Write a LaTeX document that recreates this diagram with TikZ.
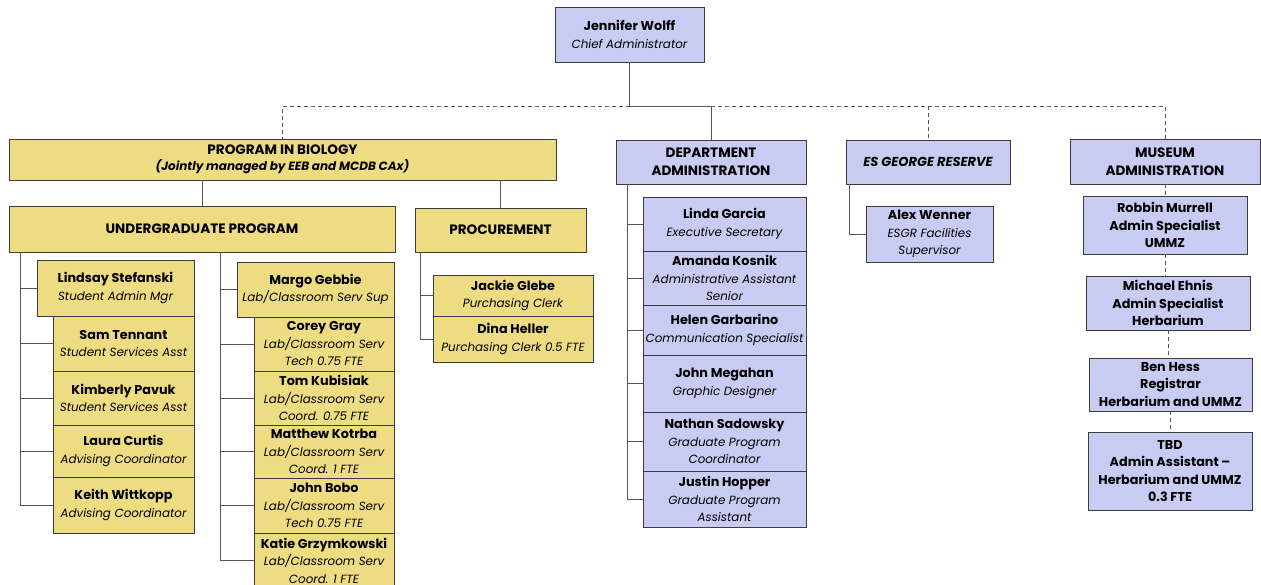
\documentclass[tikz,border=0pt]{standalone}
\usepackage{fontspec}
\setmainfont{Poppins}
\usetikzlibrary{positioning}
\definecolor{orgYellow}{HTML}{EEDC82}
\definecolor{orgBlue}{HTML}{C8CCF2}
\definecolor{orgEdge}{HTML}{3C3C3C}
\definecolor{orgLine}{HTML}{555555}
% name line and title line inside a box
\newcommand{\who}[1]{{\bfseries\fontsize{12.8}{17.5}\selectfont #1}}
\newcommand{\what}[1]{{\itshape\fontsize{11.9}{17.5}\selectfont #1}}

\begin{document}
\begin{tikzpicture}[
  x=1pt, y=-1pt,
  unit/.style={
    rectangle, draw=orgEdge, line width=0.9pt, fill=#1,
    inner sep=1pt, align=center, text=black,
    font=\fontsize{11.9}{17.5}\selectfont
  },
  ybox/.style={unit=orgYellow},
  bbox/.style={unit=orgBlue},
  head/.style={font=\bfseries\fontsize{13.6}{17.5}\selectfont},
  wh/.style 2 args={minimum width=#1, minimum height=#2},
  conn/.style={line width=0.9pt, orgLine},
  dconn/.style={conn, dash pattern=on 4pt off 3pt},
]
\useasboundingbox (0,0) rectangle (1261,585);
\clip (0,0) rectangle (1261,585);

% === Top level ===
\node[bbox, wh={149pt}{55pt}] (wolff) at (629.5,34.5)
  {\who{Jennifer Wolff}\\\what{Chief Administrator}};

\node[ybox, wh={547pt}{41pt}, font=\fontsize{12}{16.5}\selectfont] (prog) at (282.5,159.5)
  {{\bfseries\fontsize{13.6}{16.5}\selectfont PROGRAM IN BIOLOGY}\\
   \textbf{\textit{(Jointly managed by EEB and MCDB CAx)}}};
\node[bbox, head, wh={190pt}{44pt}] (dept) at (711,162)
  {DEPARTMENT\\ADMINISTRATION};
\node[bbox, wh={164pt}{44pt}, font=\bfseries\itshape\fontsize{13}{17.5}\selectfont] (esgr) at (928,162)
  {ES GEORGE RESERVE};
\node[bbox, head, wh={190pt}{45pt}] (museum) at (1165,161.5)
  {MUSEUM\\ADMINISTRATION};

% === Program in Biology ===
\node[ybox, head, wh={386pt}{46pt}] (ugrad) at (202,229)
  {UNDERGRADUATE PROGRAM};
\node[ybox, head, wh={171pt}{44pt}] (proc) at (500.5,230)
  {PROCUREMENT};

\node[ybox, wh={157pt}{56pt}] (lindsay) at (115.5,288)
  {\who{Lindsay Stefanski}\\\what{Student Admin Mgr}};
\node[ybox, wh={141pt}{55pt}] (sam) at (123.5,343.5)
  {\who{Sam Tennant}\\\what{Student Services Asst}};
\node[ybox, wh={141pt}{54pt}] (kimberly) at (123.5,398)
  {\who{Kimberly Pavuk}\\\what{Student Services Asst}};
\node[ybox, wh={141pt}{52pt}] (laura) at (123.5,451)
  {\who{Laura Curtis}\\\what{Advising Coordinator}};
\node[ybox, wh={141pt}{56pt}] (keith) at (123.5,505)
  {\who{Keith Wittkopp}\\\what{Advising Coordinator}};

\node[ybox, wh={157pt}{55pt}] (margo) at (315.5,289.5)
  {\who{Margo Gebbie}\\\what{Lab/Classroom Serv Sup}};
\node[ybox, wh={140pt}{54pt}] (corey) at (324,344)
  {\who{Corey Gray}\\\what{Lab/Classroom Serv}\\\what{Tech 0.75 FTE}};
\node[ybox, wh={140pt}{54pt}] (tom) at (324,398)
  {\who{Tom Kubisiak}\\\what{Lab/Classroom Serv}\\\what{Coord. 0.75 FTE}};
\node[ybox, wh={140pt}{53pt}] (matthew) at (324,451.5)
  {\who{Matthew Kotrba}\\\what{Lab/Classroom Serv}\\\what{Coord. 1 FTE}};
\node[ybox, wh={140pt}{55pt}] (bobo) at (324,505.5)
  {\who{John Bobo}\\\what{Lab/Classroom Serv}\\\what{Tech 0.75 FTE}};
\node[ybox, wh={140pt}{55pt}] (katie) at (324,560.5)
  {\who{Katie Grzymkowski}\\\what{Lab/Classroom Serv}\\\what{Coord. 1 FTE}};

\node[ybox, wh={160pt}{41pt}] (jackie) at (513,295.5)
  {\who{Jackie Glebe}\\\what{Purchasing Clerk}};
\node[ybox, wh={160pt}{46pt}] (dina) at (513,339)
  {\who{Dina Heller}\\\what{Purchasing Clerk 0.5 FTE}};

% === Department Administration ===
\node[bbox, wh={163pt}{54pt}] (linda) at (724.5,224)
  {\who{Linda Garcia}\\\what{Executive Secretary}};
\node[bbox, wh={163pt}{54pt}] (amanda) at (724.5,278)
  {\who{Amanda Kosnik}\\\what{Administrative Assistant}\\\what{Senior}};
\node[bbox, wh={163pt}{50pt}] (helen) at (724.5,330)
  {\who{Helen Garbarino}\\\what{Communication Specialist}};
\node[bbox, wh={163pt}{57pt}] (megahan) at (724.5,383.5)
  {\who{John Megahan}\\\what{Graphic Designer}};
\node[bbox, wh={163pt}{59pt}] (nathan) at (724.5,441.5)
  {\who{Nathan Sadowsky}\\\what{Graduate Program}\\\what{Coordinator}};
\node[bbox, wh={163pt}{56pt}] (justin) at (724.5,499)
  {\who{Justin Hopper}\\\what{Graduate Program}\\\what{Assistant}};

% === ES George Reserve ===
\node[bbox, wh={127pt}{56pt}] (alex) at (929.5,234)
  {\who{Alex Wenner}\\\what{ESGR Facilities}\\\what{Supervisor}};

% === Museum Administration ===
\node[bbox, wh={164pt}{58pt}] (robbin) at (1165,225)
  {\who{Robbin Murrell}\\\who{Admin Specialist}\\\who{UMMZ}};
\node[bbox, wh={164pt}{54pt}] (ehnis) at (1168,303)
  {\who{Michael Ehnis}\\\who{Admin Specialist}\\\who{Herbarium}};
\node[bbox, wh={163pt}{53pt}] (hess) at (1170.5,384.5)
  {\who{Ben Hess}\\\who{Registrar}\\\who{Herbarium and UMMZ}};
\node[bbox, wh={164pt}{78pt}] (tbd) at (1170,471)
  {\who{TBD}\\\who{Admin Assistant --}\\\who{Herbarium and UMMZ}\\\who{0.3 FTE}};

% === Top connectors ===
\draw[conn] (wolff.south) -- ++(0,44) coordinate (hub) -| (dept.north);
\draw[dconn] (hub) -| (prog.north);
\draw[dconn] (dept.north |- hub) -| (esgr.north);
\draw[dconn] (esgr.north |- hub) -| (museum.north);

\draw[conn] (ugrad.north) -- (ugrad.north |- prog.south);
\draw[conn] (proc.north) -- (proc.north |- prog.south);

% === Staff connectors ===
\coordinate (ugL) at (ugrad.south west -| 20,0);
\coordinate (ugR) at (ugrad.south west -| 220,0);
\coordinate (prL) at (proc.south west -| 420,0);
\coordinate (dpL) at (dept.south west -| 627,0);
\coordinate (esL) at (esgr.south west -| 849,0);

\foreach \n in {lindsay,sam,kimberly,laura,keith}
  \draw[conn] (ugL) |- (\n.west);
\foreach \n in {margo,corey,tom,matthew,bobo,katie}
  \draw[conn] (ugR) |- (\n.west);
\foreach \n in {jackie,dina}
  \draw[conn] (prL) |- (\n.west);
\foreach \n in {linda,amanda,helen,megahan,nathan,justin}
  \draw[conn] (dpL) |- (\n.west);
\draw[conn] (esL) |- (alex.west);

\draw[dconn] (museum.south) -- (museum.south |- robbin.north);
\draw[dconn] (robbin.south) -- (robbin.south |- ehnis.north);
\draw[dconn] (ehnis.south) -- (ehnis.south |- hess.north);
\draw[dconn] (hess.south) -- (hess.south |- tbd.north);

\end{tikzpicture}
\end{document}
